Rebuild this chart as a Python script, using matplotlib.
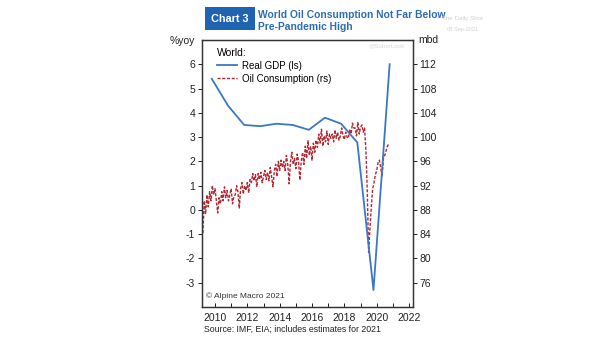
import matplotlib
matplotlib.use("Agg")
import matplotlib.pyplot as plt
import numpy as np

plt.rcParams['font.family'] = ['Liberation Sans', 'DejaVu Sans']

# ---- data ----
gdp_years = [2010, 2011, 2012, 2013, 2014, 2015, 2016, 2017, 2018, 2019, 2020, 2021]
gdp_growth = [5.4, 4.3, 3.5, 3.45, 3.55, 3.5, 3.3, 3.8, 3.55, 2.78, -3.3, 6.0]

oil_start_year = 2010  # monthly from Jan 2010
oil_mbd = [
    # 2010
    84.2, 89.5, 87.3, 90.5, 88.5, 91.0, 89.5, 92.0, 90.5, 91.5, 89.5, 87.5,
    # 2011
    90.0, 89.0, 91.0, 89.5, 91.8, 90.0, 91.2, 89.5, 90.5, 91.5, 89.0, 90.2,
    # 2012
    90.5, 92.0, 91.0, 88.3, 91.5, 92.5, 90.6, 92.0, 91.2, 92.5, 90.8, 93.0,
    # 2013
    92.5, 94.0, 92.8, 93.8, 91.8, 94.0, 93.0, 94.2, 92.5, 93.5, 94.5, 93.0,
    # 2014
    94.2, 92.8, 95.0, 93.5, 91.8, 94.5, 95.5, 93.5, 96.0, 94.5, 96.2, 95.0,
    # 2015
    96.0, 94.5, 97.0, 95.5, 92.3, 96.0, 97.5, 95.5, 96.5, 94.8, 97.2, 96.0,
    # 2016
    92.9, 96.0, 97.5, 95.5, 98.5, 96.5, 99.4, 97.0, 98.5, 96.2, 99.0, 97.5,
    # 2017
    99.5, 98.3, 100.5, 99.0, 101.3, 98.5, 100.2, 99.2, 101.0, 98.8, 100.5, 99.8,
    # 2018
    100.5, 99.2, 101.2, 99.8, 100.8, 99.5, 100.2, 101.5, 100.2, 99.6, 100.8, 100.0,
    # 2019
    99.8, 101.3, 100.5, 102.3, 101.5, 101.5, 100.2, 102.4, 100.5, 101.6, 102.0, 100.8,
    # 2020
    101.5, 97.8, 91.0, 81.0, 85.0, 88.5, 91.5, 92.5, 93.8, 94.5, 95.8, 96.2,
    # 2021
    94.8, 93.5, 96.5, 97.0, 97.8, 98.5, 99.0,
]

x_ticks = [2010, 2012, 2014, 2016, 2018, 2020, 2022]
left_ticks = [-3, -2, -1, 0, 1, 2, 3, 4, 5, 6]
right_ticks = [76, 80, 84, 88, 92, 96, 100, 104, 108, 112]

# ---- positions as drawn in the source chart ----
gdp_x = np.array(gdp_years) - 0.2
oil_x = oil_start_year - 0.75 + np.arange(len(oil_mbd)) / 12.0

blue = '#3b78c3'
red = '#b5252f'
title_blue = '#2b6cb8'

fig = plt.figure(figsize=(6.05, 3.41), dpi=100)
ax = fig.add_axes([0.334, 0.0997, 0.3488, 0.783])
ax2 = ax.twinx()

l1, = ax.plot(gdp_x, gdp_growth, color=blue, lw=1.3, label='Real GDP (ls)', zorder=3)
l2, = ax2.plot(oil_x, oil_mbd, color=red, lw=1.0, ls=(0, (2.2, 1.2)), label='Oil Consumption (rs)')
ax.set_zorder(ax2.get_zorder() + 1)
ax.patch.set_visible(False)

ax.set_xlim(2009.2, 2022.25)
ax.set_ylim(-4, 7)
ax2.set_ylim(72, 116)

ax.set_yticks(left_ticks)
ax.set_yticklabels([str(t) for t in left_ticks])
ax2.set_yticks(right_ticks)
ax2.set_yticklabels([str(t) for t in right_ticks])
ax.set_xticks(x_ticks)
ax.set_xticks(range(2010, 2023), minor=True)
ax.set_xticklabels([str(t) for t in x_ticks])

for a in (ax, ax2):
    for s in a.spines.values():
        s.set_color('#333333')
        s.set_linewidth(0.9)
ax.tick_params(axis='y', direction='out', length=3, width=0.7, labelsize=7.5, colors='#222222', pad=2)
ax2.tick_params(axis='y', direction='out', length=3, width=0.7, labelsize=7.5, colors='#222222', pad=1.5)
ax.tick_params(axis='x', which='both', direction='in', length=3, width=0.7, labelsize=7.5, colors='#222222', pad=4)

leg = ax.legend(handles=[l1, l2], loc='upper left', bbox_to_anchor=(0.035, 1.0), frameon=False,
                fontsize=7, title='World:', title_fontsize=7.5, handlelength=2.0,
                handletextpad=0.5, labelspacing=0.3, borderpad=0.3)
leg._legend_box.align = 'left'

fig.text(0.322, 0.881, '%yoy', fontsize=7.5, ha='right', va='center', color='#222222')
fig.text(0.691, 0.884, 'mbd', fontsize=7.5, ha='left', va='center', color='#222222')
ax.text(0.02, 0.035, '© Alpine Macro 2021', transform=ax.transAxes, fontsize=6, color='#333333')
fig.text(0.337, 0.035, 'Source: IMF, EIA; includes estimates for 2021', fontsize=6.3,
         color='#222222', va='center')

# title block
fig.text(0.349, 0.945, 'Chart 3', fontsize=7.8, fontweight='bold', color='white', ha='left', va='center',
         bbox=dict(boxstyle='square,pad=0.6', fc='#1f63b3', ec='none'))
fig.text(0.427, 0.937, 'World Oil Consumption Not Far Below\nPre-Pandemic High', fontsize=7.4,
         fontweight='bold', color=title_blue, ha='left', va='center', linespacing=1.25)

# faint watermark
fig.text(0.765, 0.94, 'The Daily Shot', fontsize=4.5, color='#d0d0d0', ha='center')
fig.text(0.765, 0.91, '08-Sep-2021', fontsize=4, color='#d0d0d0', ha='center')
fig.text(0.64, 0.86, '@SoberLook', fontsize=4.5, color='#d8d8d8', ha='center')

fig.savefig('out.png', dpi=100)
